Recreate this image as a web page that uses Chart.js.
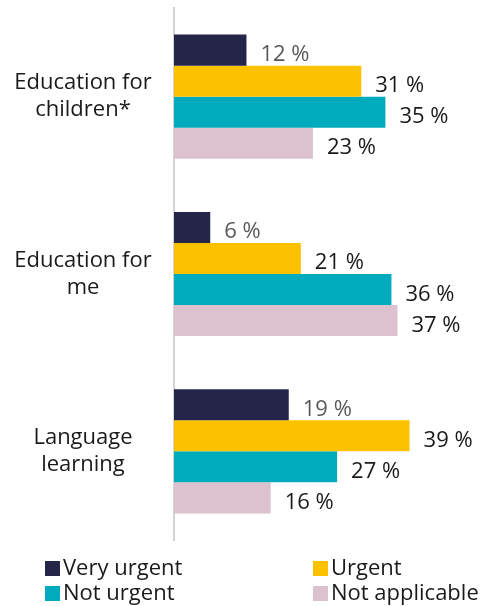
<!DOCTYPE html>
<html>
<head>
<meta charset="utf-8">
<script src="https://cdn.jsdelivr.net/npm/chart.js@4.4.1/dist/chart.umd.min.js"></script>
<style>
  html, body { margin: 0; padding: 0; background: #ffffff; }
  #wrap { position: relative; width: 485px; height: 606px; }
</style>
</head>
<body>
<div id="wrap"><canvas id="chart" width="485" height="606"></canvas></div>
<script>
// Categories (multi-line labels) and the share answering each urgency level
const categories = [
  ['Education for', 'children*'],
  ['Education for', 'me'],
  ['Language', 'learning']
];
const seriesNames = ['Very urgent', 'Urgent', 'Not urgent', 'Not applicable'];
const veryUrgent = [12, 6, 19];
const urgent = [31, 21, 39];
const notUrgent = [35, 36, 27];
const notApplicable = [23, 37, 16];

const colors = ['#25254a', '#fcc200', '#00abbd', '#dcc2cf'];
const labelColors = ['#595959', '#1a1a1a', '#1a1a1a', '#1a1a1a'];
const FONT = '"Open Sans", Lato, sans-serif';

const seriesValues = [veryUrgent, urgent, notUrgent, notApplicable];

// Draws the category names, value labels and two-column legend
const annotate = {
  id: 'annotate',
  afterDatasetsDraw(chart) {
    const ctx = chart.ctx;
    const y = chart.scales.y;
    ctx.save();
    ctx.font = '22px ' + FONT;

    // category labels, centered in the left margin
    ctx.fillStyle = '#1a1a1a';
    ctx.textAlign = 'center';
    ctx.textBaseline = 'middle';
    categories.forEach((lines, i) => {
      const cy = y.getPixelForValue(i);
      const lh = 27;
      lines.forEach((t, k) => {
        ctx.fillText(t, 83, cy + (k - (lines.length - 1) / 2) * lh);
      });
    });

    // value labels to the right of each bar
    ctx.textAlign = 'left';
    ctx.textBaseline = 'alphabetic';
    chart.data.datasets.forEach((ds, di) => {
      const meta = chart.getDatasetMeta(di);
      meta.data.forEach((bar, i) => {
        ctx.fillStyle = labelColors[di];
        ctx.fillText(ds.data[i] + ' %', bar.x + 14, bar.y + 11);
      });
    });

    // legend
    const items = [
      { x: 45, y: 568, i: 0 },
      { x: 313, y: 568, i: 1 },
      { x: 45, y: 593, i: 2 },
      { x: 313, y: 593, i: 3 }
    ];
    ctx.textBaseline = 'middle';
    items.forEach(it => {
      ctx.fillStyle = colors[it.i];
      ctx.fillRect(it.x, it.y - 7, 15, 15);
      ctx.fillStyle = '#1a1a1a';
      ctx.fillText(seriesNames[it.i], it.x + 18, it.y + 1);
    });
    ctx.restore();
  }
};

new Chart(document.getElementById('chart'), {
  type: 'bar',
  data: {
    labels: categories.map(l => l.join(' ')),
    datasets: seriesNames.map((name, i) => ({
      label: name,
      data: seriesValues[i],
      backgroundColor: colors[i],
      borderWidth: 0,
      categoryPercentage: 0.70,
      barPercentage: 1.0
    }))
  },
  options: {
    indexAxis: 'y',
    responsive: false,
    animation: false,
    layout: { padding: { top: 8, bottom: 66, left: 166, right: 9 } },
    plugins: { legend: { display: false }, tooltip: { enabled: false } },
    scales: {
      x: { display: false, min: 0, max: 50 },
      y: {
        grid: { display: false },
        ticks: { display: false },
        border: { display: true, color: '#d4d4d4', width: 2 }
      }
    }
  },
  plugins: [annotate]
});
</script>
</body>
</html>
